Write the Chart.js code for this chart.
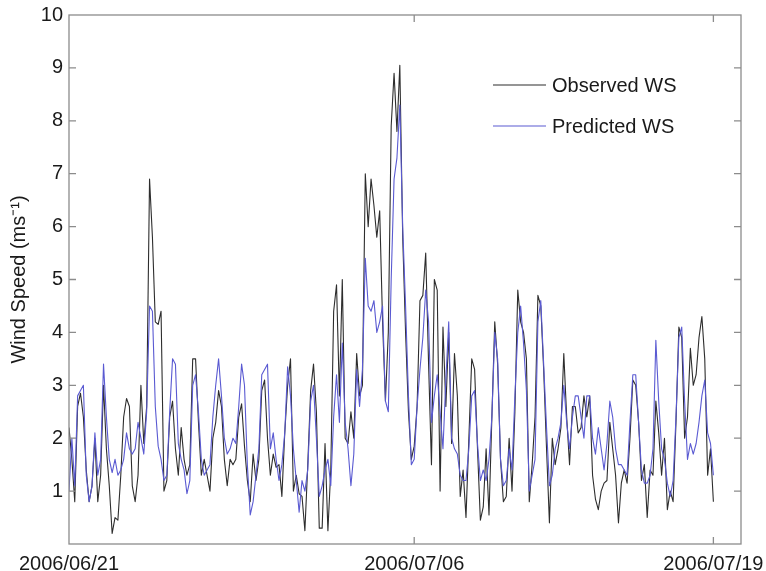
<!DOCTYPE html>
<html>
<head>
<meta charset="utf-8">
<script src="https://cdn.jsdelivr.net/npm/chart.js@4.4.0/dist/chart.umd.min.js"></script>
<style>
  html, body { margin: 0; padding: 0; background: #fff; }
  #wrap { width: 766px; height: 571px; }
</style>
</head>
<body>
<div id="wrap"><canvas id="chart" width="766" height="571"></canvas></div>
<script>
// wind speed every 3 hours from 2006/06/21 00:00
const stepHours = 3;

const observedWS = [
    2.2, 1.6, 0.8, 2.6, 2.85, 2.4, 1.4, 0.8,
    1.1, 2.0, 0.8, 1.3, 3.0, 1.8, 1.1, 0.2,
    0.5, 0.45, 1.3, 2.4, 2.75, 2.6, 1.1, 0.8,
    1.3, 3.0, 1.9, 2.6, 6.9, 5.8, 4.2, 4.15,
    4.4, 1.0, 1.2, 2.4, 2.7, 1.8, 1.3, 2.2,
    1.6, 1.3, 1.5, 3.5, 3.5, 2.3, 1.3, 1.6,
    1.3, 1.0, 2.0, 2.3, 2.9, 2.6, 1.6, 1.1,
    1.6, 1.5, 1.6, 2.4, 2.65, 1.85, 1.2, 0.8,
    1.7, 1.2, 1.6, 2.9, 3.1, 2.0, 1.3, 1.7,
    1.45, 1.5, 0.9, 2.1, 3.0, 3.5, 1.0, 1.3,
    0.95, 0.9, 0.25, 1.5, 2.9, 3.4, 2.5, 0.3,
    0.3, 1.9, 0.25, 1.4, 4.4, 4.9, 2.8, 5.0,
    2.0, 1.9, 2.5, 2.0, 3.6, 2.8, 3.0, 7.0,
    6.0, 6.9, 6.4, 5.8, 6.3, 4.2, 2.7, 4.0,
    7.9, 8.9, 7.8, 9.05, 5.8, 4.0, 2.5, 1.6,
    1.85, 2.6, 4.6, 4.7, 5.5, 3.4, 1.5, 5.0,
    4.8, 1.0, 4.1, 2.6, 4.0, 1.9, 3.6, 2.8,
    0.9, 1.4, 0.5, 2.0, 3.5, 3.3, 1.8, 0.45,
    0.7, 1.8, 0.55, 2.4, 4.2, 3.4, 1.6, 0.8,
    0.9, 2.0, 1.0, 2.5, 4.8, 4.2, 4.0, 3.5,
    0.8, 1.5, 2.4, 4.7, 4.5, 3.3, 1.8, 0.4,
    2.0, 1.5, 1.8, 2.2, 3.6, 2.4, 1.5, 2.6,
    2.6, 2.1, 2.2, 2.8, 2.4, 2.8, 1.3, 0.85,
    0.65, 1.0, 1.15, 1.2, 2.3, 1.8, 1.3, 0.4,
    1.15, 1.4, 1.15, 2.0, 3.1, 3.0, 2.3, 1.2,
    1.5, 0.5, 1.4, 1.3, 2.7, 2.1, 1.3, 2.0,
    0.65, 1.0, 0.8, 2.3, 4.1, 3.9, 2.0, 2.4,
    3.7, 3.0, 3.2, 3.9, 4.3, 3.5, 1.3, 1.8,
    0.8
];

const predictedWS = [
    1.0, 2.0, 1.1, 2.8, 2.9, 3.0, 1.3, 0.8,
    1.1, 2.1, 1.3, 1.6, 3.4, 2.4, 1.6, 1.35,
    1.6, 1.3, 1.4, 1.6, 2.1, 1.8, 1.7, 1.8,
    2.3, 2.0, 1.7, 2.5, 4.5, 4.4, 2.6, 1.85,
    1.6, 1.2, 1.3, 2.5, 3.5, 3.4, 1.9, 1.6,
    1.4, 0.95, 1.2, 3.0, 3.2, 2.5, 1.6, 1.3,
    1.4, 1.5, 2.4, 3.0, 3.5, 2.8, 2.0, 1.7,
    1.8, 2.0, 1.9, 2.6, 3.4, 3.0, 1.5, 0.55,
    0.8, 1.3, 1.8, 3.2, 3.3, 3.4, 1.8, 2.1,
    1.6, 1.2, 1.5, 2.1, 3.35, 2.8, 1.8, 1.2,
    0.6, 1.2, 1.0, 1.4, 2.7, 3.0, 2.0, 0.9,
    1.1, 1.4, 1.6, 1.1, 2.4, 3.2, 2.3, 3.8,
    2.3, 1.8, 1.1, 1.7, 3.3, 2.6, 3.3, 5.4,
    4.5, 4.4, 4.6, 4.0, 4.2, 4.5, 2.7, 2.5,
    5.0, 6.9, 7.3, 8.3, 6.0, 4.5, 2.8, 1.5,
    1.6, 2.6, 3.3, 3.9, 4.8, 4.2, 2.3, 2.8,
    3.2, 2.5, 1.8, 3.1, 4.2, 2.0, 1.8, 1.7,
    1.3, 1.2, 1.2, 1.8, 2.8, 2.9, 1.9, 1.2,
    1.4, 1.2, 1.6, 2.4, 4.0, 3.5, 1.6, 1.1,
    1.2, 1.8, 1.4, 2.8, 4.0, 4.5, 3.8, 2.9,
    1.0, 1.3, 1.6, 4.2, 4.6, 3.4, 2.2, 1.1,
    1.3, 1.8, 2.0, 2.3, 3.0, 2.3, 1.8, 2.4,
    2.8, 2.8, 2.4, 2.0, 2.8, 2.8, 2.0, 1.7,
    2.2, 1.8, 1.4, 1.9, 2.7, 2.4, 1.8, 1.5,
    1.5, 1.4, 1.3, 2.3, 3.2, 3.2, 2.3, 1.4,
    1.15, 1.15, 1.3, 1.8, 3.85, 2.7, 1.8, 1.6,
    1.15, 0.9, 1.2, 2.4, 3.9, 4.1, 2.7, 1.6,
    1.9, 1.7, 1.9, 2.3, 2.8, 3.1, 2.1, 1.9,
    1.3
];

// x axis is in days since 2006/06/21
const xTickDays = [0, 15, 28];
const xTickLabels = ['2006/06/21', '2006/07/06', '2006/07/19'];
const xMaxDays = 29.2;
const yMin = 0;
const yMax = 10;

const fontFamily = '"Liberation Sans", Arial, Helvetica, sans-serif';

function toPoints(values) {
    return values.map((v, i) => ({ x: i * stepHours / 24, y: v }));
}

// MATLAB-like box with inward ticks, plus the in-plot legend
const boxAndLegend = {
    id: 'boxAndLegend',
    afterDraw(chart) {
        const { ctx, chartArea: a, scales: { x, y } } = chart;
        const len = 7;
        ctx.save();
        ctx.strokeStyle = '#8c8c8c';
        ctx.lineWidth = 1.3;
        ctx.strokeRect(a.left, a.top, a.right - a.left, a.bottom - a.top);

        ctx.beginPath();
        y.ticks.forEach(t => {
            if (t.value <= yMin || t.value >= yMax) return;
            const py = y.getPixelForValue(t.value);
            ctx.moveTo(a.left, py); ctx.lineTo(a.left + len, py);
            ctx.moveTo(a.right, py); ctx.lineTo(a.right - len, py);
        });
        x.ticks.forEach(t => {
            if (t.value <= 0) return;
            const px = x.getPixelForValue(t.value);
            ctx.moveTo(px, a.bottom); ctx.lineTo(px, a.bottom - len);
            ctx.moveTo(px, a.top); ctx.lineTo(px, a.top + len);
        });
        ctx.stroke();

        // legend
        const rows = [85, 126];
        ctx.font = '20px ' + fontFamily;
        ctx.textBaseline = 'middle';
        ctx.fillStyle = '#1a1a1a';
        chart.data.datasets.forEach((ds, i) => {
            ctx.strokeStyle = ds.borderColor;
            ctx.lineWidth = 1.2;
            ctx.beginPath();
            ctx.moveTo(493, rows[i]);
            ctx.lineTo(546, rows[i]);
            ctx.stroke();
            ctx.fillText(ds.label, 552, rows[i] + 1);
        });
        ctx.restore();
    }
};

const ctx = document.getElementById('chart').getContext('2d');

new Chart(ctx, {
    type: 'line',
    data: {
        datasets: [
            {
                label: 'Observed WS',
                data: toPoints(observedWS),
                borderColor: 'rgb(45, 45, 45)',
                borderWidth: 1.1,
                borderJoinStyle: 'round',
                pointRadius: 0,
                tension: 0,
                fill: false,
                order: 2
            },
            {
                label: 'Predicted WS',
                data: toPoints(predictedWS),
                borderColor: 'rgb(90, 90, 210)',
                borderWidth: 1.1,
                borderJoinStyle: 'round',
                pointRadius: 0,
                tension: 0,
                fill: false,
                order: 1
            }
        ]
    },
    options: {
        responsive: false,
        animation: false,
        devicePixelRatio: 1,
        layout: {
            padding: { top: 15, right: 25, bottom: 0, left: 0 }
        },
        plugins: {
            legend: { display: false },
            tooltip: { enabled: false }
        },
        scales: {
            x: {
                type: 'linear',
                min: 0,
                max: xMaxDays,
                grid: { display: false, drawTicks: false },
                border: { display: false },
                afterBuildTicks: scale => {
                    scale.ticks = xTickDays.map(v => ({ value: v }));
                },
                afterFit: scale => {
                    scale.height = 27;
                    scale.paddingLeft = 0;
                    scale.paddingRight = 0;
                },
                ticks: {
                    autoSkip: false,
                    maxRotation: 0,
                    padding: 8,
                    color: '#1a1a1a',
                    font: { family: fontFamily, size: 20 },
                    callback: v => xTickLabels[xTickDays.indexOf(v)]
                }
            },
            y: {
                min: yMin,
                max: yMax,
                grid: { display: false, drawTicks: false },
                border: { display: false },
                afterFit: scale => {
                    scale.width = 69;
                    scale.paddingTop = 0;
                    scale.paddingBottom = 0;
                },
                ticks: {
                    stepSize: 1,
                    padding: 6,
                    color: '#1a1a1a',
                    font: { family: fontFamily, size: 20 },
                    callback: v => (v === yMin ? '' : v)
                },
                title: {
                    display: true,
                    text: 'Wind Speed (ms⁻¹)',
                    color: '#1a1a1a',
                    font: { family: fontFamily, size: 20 },
                    padding: { top: 7, bottom: 0 }
                }
            }
        }
    },
    plugins: [boxAndLegend]
});
</script>
</body>
</html>
